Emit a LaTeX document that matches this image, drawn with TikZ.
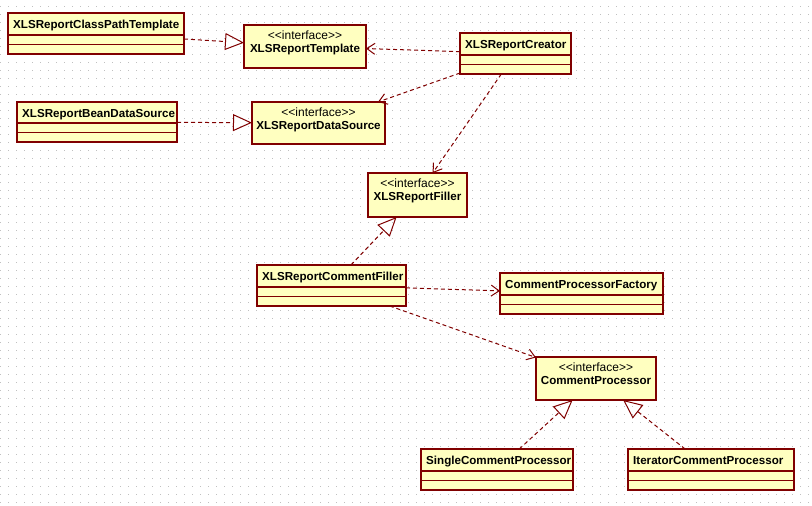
\documentclass[tikz,border=0pt]{standalone}
\usepackage{fontspec}
\setmainfont{Liberation Sans}
\usetikzlibrary{arrows.meta}
\definecolor{umlred}{HTML}{800000}
\definecolor{umlfill}{HTML}{FFFFC0}
\definecolor{griddot}{HTML}{C0C0C0}
\begin{document}
\begin{tikzpicture}[x=1pt,y=-1pt,
  cls/.style={draw=umlred,fill=umlfill,line width=1.2pt,inner sep=0pt,outer sep=0pt},
  cname/.style={font=\fontsize{11.6}{13}\selectfont\bfseries,inner sep=0pt,anchor=base west},
  iname/.style={font=\fontsize{11.6}{13}\selectfont\bfseries,inner sep=0pt,anchor=base},
  stereo/.style={font=\fontsize{12}{13}\selectfont,inner sep=0pt,anchor=base},
  dep/.style={draw=umlred,line width=1pt,dash pattern=on 4pt off 3pt,-{Straight Barb[length=8pt,width=11pt]}},
  real/.style={draw=umlred,line width=1pt,dash pattern=on 4pt off 3pt,-{Triangle[open,length=19pt,width=17pt]}}]
\useasboundingbox (0,0) rectangle (812,506);
\fill[white] (0,0) rectangle (812,506);
\foreach \gy in {6,14,...,502}
  \draw[griddot,line width=1pt,dash pattern=on 1pt off 7pt] (0,\gy) -- (812,\gy);
% classes
\node[cls,minimum width=176,minimum height=41] (cpt) at (96,33.5) {};
\node[cls,minimum width=160,minimum height=40] (bds) at (97,122) {};
\node[cls,minimum width=111,minimum height=41] (crt) at (515.5,53.5) {};
\node[cls,minimum width=149,minimum height=41] (cmf) at (331.5,285.5) {};
\node[cls,minimum width=163,minimum height=41] (cpf) at (581.5,293.5) {};
\node[cls,minimum width=152,minimum height=41] (scp) at (497,469.5) {};
\node[cls,minimum width=166,minimum height=41] (icp) at (711,469.5) {};
\foreach \c in {cpt,bds,crt,cmf,cpf,scp,icp}
  \draw[umlred,line width=1.2pt] ([yshift=9.5pt]\c.south west) -- ([yshift=9.5pt]\c.south east)
    ([yshift=19pt]\c.south west) -- ([yshift=19pt]\c.south east);
\node[cname] (cptT) at ([xshift=5pt,yshift=-15.5pt]cpt.north west) {XLSReportClassPathTemplate};
\node[cname] (bdsT) at ([xshift=5pt,yshift=-15.5pt]bds.north west) {XLSReportBeanDataSource};
\node[cname] (crtT) at ([xshift=5pt,yshift=-15.5pt]crt.north west) {XLSReportCreator};
\node[cname] (cmfT) at ([xshift=5pt,yshift=-15.5pt]cmf.north west) {XLSReportCommentFiller};
\node[cname] (cpfT) at ([xshift=5pt,yshift=-15.5pt]cpf.north west) {CommentProcessorFactory};
\node[cname] (scpT) at ([xshift=5pt,yshift=-15.5pt]scp.north west) {SingleCommentProcessor};
\node[cname] (icpT) at ([xshift=5pt,yshift=-15.5pt]icp.north west) {IteratorCommentProcessor};
% interfaces
\node[cls,minimum width=122,minimum height=43] (tpl) at (305,46.5) {};
\node[cls,minimum width=133,minimum height=42] (dts) at (318.5,123) {};
\node[cls,minimum width=99,minimum height=44] (flr) at (417.5,195) {};
\node[cls,minimum width=120,minimum height=43] (cpr) at (596,378.5) {};
\foreach \i/\t in {tpl/XLSReportTemplate,dts/XLSReportDataSource,flr/XLSReportFiller,cpr/CommentProcessor} {
  \node[stereo] (\i S) at ([yshift=-14pt]\i.north) {<{}<interface>{}>};
  \node[iname] (\i T) at ([yshift=-27.5pt]\i.north) {\t};
}
% relations
\draw[real] (cpt) -- (tpl);
\draw[real] (bds) -- (dts);
\draw[dep] (crt) -- (tpl);
\draw[dep] (crt) -- (dts);
\draw[dep] (crt) -- (flr);
\draw[real] (cmf) -- (flr);
\draw[dep] (cmf) -- (cpf);
\draw[dep] (cmf) -- (cpr);
\draw[real] (scp) -- (cpr);
\draw[real] (icp) -- (cpr);
\end{tikzpicture}
\end{document}
